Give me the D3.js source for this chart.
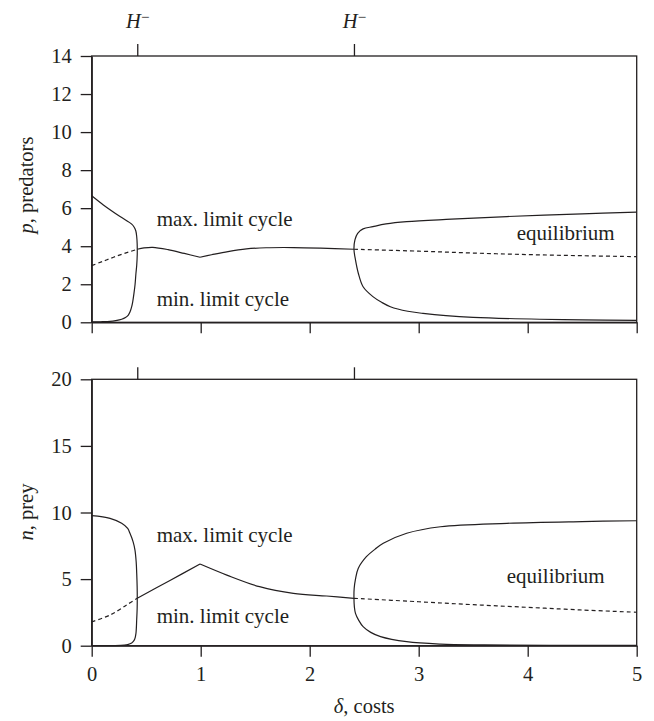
<!DOCTYPE html>
<html>
<head>
<meta charset="utf-8">
<script src="https://cdn.jsdelivr.net/npm/d3@7"></script>
<style>
  body { margin: 0; background: #fff; }
  .axis path, .axis line { stroke: #231f20; stroke-width: 1.3px; }
  .curve { fill: none; stroke: #231f20; stroke-width: 1.2px; }
  .dashed { stroke-dasharray: 4, 3; }
</style>
</head>
<body>
<div class="main"></div>
<script>
// ---- data: [delta, value] ----
const deltaTicks = [0, 1, 2, 3, 4, 5];
const predTicks = [0, 2, 4, 6, 8, 10, 12, 14];
const preyTicks = [0, 5, 10, 15, 20];
const hopfDeltas = [0.418, 2.406];

// predators p
const predCycle1 = [[0, 6.65], [0.107, 6.17], [0.26, 5.56], [0.367, 5.16], [0.39, 5.0], [0.405, 4.8],
  [0.413, 4.5], [0.417, 4.15], [0.418, 3.84], [0.418, 3.6], [0.413, 3.0], [0.406, 2.58], [0.398, 2.0],
  [0.388, 1.53], [0.377, 1.1], [0.367, 0.82], [0.352, 0.55], [0.336, 0.38], [0.31, 0.25],
  [0.275, 0.16], [0.22, 0.09], [0.168, 0.05], [0.08, 0.03], [0, 0.02]];
const predEqDashed1 = [[0, 2.98], [0.1, 3.2], [0.2, 3.42], [0.3, 3.62], [0.418, 3.84]];
const predEqSolidA = [[0.418, 3.84], [0.48, 3.91], [0.56, 3.94], [0.7, 3.82], [0.85, 3.62], [0.994, 3.42]];
const predEqSolidB = [[0.994, 3.42], [1.1, 3.55], [1.25, 3.72], [1.42, 3.86], [1.6, 3.92], [1.85, 3.93],
  [2.1, 3.9], [2.406, 3.84]];
const predEqDashed2 = [[2.406, 3.84], [3, 3.74], [3.5, 3.64], [4, 3.56], [4.5, 3.5], [5, 3.45]];
const predCycle2 = [[5, 5.79], [4.5, 5.7], [3.81, 5.56], [3.3, 5.42], [2.89, 5.29], [2.7, 5.17],
  [2.58, 5.03], [2.49, 4.91], [2.44, 4.68], [2.415, 4.33], [2.406, 3.84], [2.42, 3.28], [2.446, 2.58],
  [2.49, 1.87], [2.58, 1.35], [2.66, 1.05], [2.74, 0.82], [2.9, 0.58], [3.04, 0.47], [3.25, 0.35],
  [3.5, 0.26], [4.11, 0.16], [4.5, 0.13], [5, 0.1]];

// prey n
const preyCycle1 = [[0, 9.76], [0.168, 9.56], [0.275, 9.19], [0.33, 8.8], [0.351, 8.44], [0.38, 7.8],
  [0.397, 7.18], [0.408, 6.3], [0.413, 5.43], [0.417, 4.4], [0.418, 3.56], [0.417, 2.8], [0.413, 2.0],
  [0.406, 0.93], [0.395, 0.5], [0.38, 0.3], [0.367, 0.2], [0.33, 0.08], [0.3, 0.04], [0.2, 0.01], [0, 0]];
const preyEqDashed1 = [[0, 1.8], [0.168, 2.3], [0.32, 3.06], [0.418, 3.56]];
const preyEqSolidA = [[0.418, 3.56], [0.718, 4.9], [0.994, 6.13]];
const preyEqSolidB = [[0.994, 6.13], [1.24, 5.3], [1.54, 4.43], [1.85, 3.93], [2.155, 3.73], [2.406, 3.56]];
const preyEqDashed2 = [[2.406, 3.56], [3, 3.3], [3.5, 3.08], [4, 2.88], [4.5, 2.68], [5, 2.51]];
const preyCycle2 = [[5, 9.38], [4.5, 9.32], [3.81, 9.19], [3.2, 8.93], [2.89, 8.44], [2.675, 7.69],
  [2.6, 7.25], [2.52, 6.68], [2.445, 5.8], [2.42, 5.0], [2.408, 4.3], [2.406, 3.56], [2.41, 2.9],
  [2.42, 2.43], [2.45, 1.9], [2.49, 1.43], [2.56, 1.0], [2.65, 0.68], [2.89, 0.3], [3.2, 0.12],
  [3.6, 0.06], [4.2, 0.03], [5, 0.02]];

// ---- layout ----
const svgWidth = 654, svgHeight = 721,
    plotLeft = 91.7, plotRight = 636.7,
    fontSize = 20.5, tickLen = 11,
    serif = "'Liberation Serif', 'Times New Roman', Times, 'Nimbus Roman', 'DejaVu Serif', serif",
    ink = "#231f20";

const svg = d3.select("body>.main").append("svg")
    .attr("width", svgWidth)
    .attr("height", svgHeight)
    .attr("font-family", serif);

const x = d3.scaleLinear().domain([0, 5]).range([plotLeft, plotRight]);

function styleText(sel, size) {
  sel.style("font-family", serif)
     .attr("font-size", size)
     .attr("fill", ink);
}

function panel(opts) {
  const y = d3.scaleLinear().domain(opts.yDomain).range([opts.bottom, opts.top]);
  const g = svg.append("g");

  // frame
  g.append("rect")
      .attr("x", plotLeft).attr("y", opts.top)
      .attr("width", plotRight - plotLeft).attr("height", opts.bottom - opts.top)
      .style("fill", "none").style("stroke", ink).style("stroke-width", "1.3px");

  // left axis
  g.append("g")
      .attr("class", "axis")
      .attr("transform", "translate(" + plotLeft + ",0)")
      .call(d3.axisLeft(y).tickValues(opts.yTicks).tickSize(tickLen).tickSizeOuter(0).tickPadding(9))
      .call(s => { s.attr("font-family", serif); styleText(s.selectAll("text"), fontSize); });

  // bottom axis
  g.append("g")
      .attr("class", "axis")
      .attr("transform", "translate(0," + opts.bottom + ")")
      .call(d3.axisBottom(x).tickValues(deltaTicks).tickSize(tickLen).tickSizeOuter(0).tickPadding(10)
        .tickFormat(opts.xLabels ? d3.format("d") : ""))
      .call(s => { s.attr("font-family", serif); styleText(s.selectAll("text"), fontSize); });

  // Hopf ticks on top
  const top = g.append("g")
      .attr("class", "axis")
      .attr("transform", "translate(0," + opts.top + ")")
      .call(d3.axisTop(x).tickValues(hopfDeltas).tickSize(12).tickSizeOuter(0).tickFormat(""));
  top.select(".domain").remove();
  top.selectAll(".tick text").remove();
  if (opts.hopfLabels) {
    top.selectAll(".tick").append("text")
        .attr("y", -opts.top + 28.3)
        .attr("text-anchor", "middle")
        .call(t => styleText(t, fontSize))
        .call(t => {
          t.append("tspan").attr("font-style", "italic").text("H");
          t.append("tspan").attr("dy", "-0.42em").attr("font-size", 15).text("\u2212");
        });
  }

  const line = d3.line()
      .x(d => x(d[0]))
      .y(d => y(d[1]))
      .curve(d3.curveCatmullRom.alpha(0.5));

  opts.solid.forEach(s => {
    g.append("path").attr("class", "curve").attr("d", line(s));
  });
  opts.dashed.forEach(s => {
    g.append("path").attr("class", "curve dashed").attr("d", line(s));
  });

  // annotations
  opts.notes.forEach(n => {
    g.append("text")
        .attr("x", n.x)
        .attr("y", n.y)
        .call(t => styleText(t, 21))
        .text(n.text);
  });

  // y label
  g.append("text")
      .attr("transform", "translate(33," + opts.labelY + ") rotate(-90)")
      .attr("text-anchor", "middle")
      .call(t => styleText(t, fontSize))
      .call(t => {
        t.append("tspan").attr("font-style", "italic").text(opts.yVar);
        t.append("tspan").text(", " + opts.yName);
      });
}

panel({
  top: 56, bottom: 322.3, yDomain: [0, 14], yTicks: predTicks,
  xLabels: false, hopfLabels: true,
  solid: [predCycle1, predEqSolidA, predEqSolidB, predCycle2],
  dashed: [predEqDashed1, predEqDashed2],
  notes: [
    {x: 156.7, y: 226, text: "max. limit cycle"},
    {x: 156.7, y: 305.7, text: "min. limit cycle"},
    {x: 516.7, y: 240, text: "equilibrium"}
  ],
  yVar: "p", yName: "predators", labelY: 185
});

panel({
  top: 379.3, bottom: 645.7, yDomain: [0, 20], yTicks: preyTicks,
  xLabels: true, hopfLabels: false,
  solid: [preyCycle1, preyEqSolidA, preyEqSolidB, preyCycle2],
  dashed: [preyEqDashed1, preyEqDashed2],
  notes: [
    {x: 156.7, y: 541.7, text: "max. limit cycle"},
    {x: 156.7, y: 623.3, text: "min. limit cycle"},
    {x: 506.7, y: 583.3, text: "equilibrium"}
  ],
  yVar: "n", yName: "prey", labelY: 512
});

// x label
svg.append("text")
    .attr("x", (plotLeft + plotRight) / 2)
    .attr("y", 713)
    .attr("text-anchor", "middle")
    .call(t => styleText(t, fontSize))
    .call(t => {
      t.append("tspan").attr("font-style", "italic").text("\u03b4");
      t.append("tspan").text(", costs");
    });
</script>
</body>
</html>
